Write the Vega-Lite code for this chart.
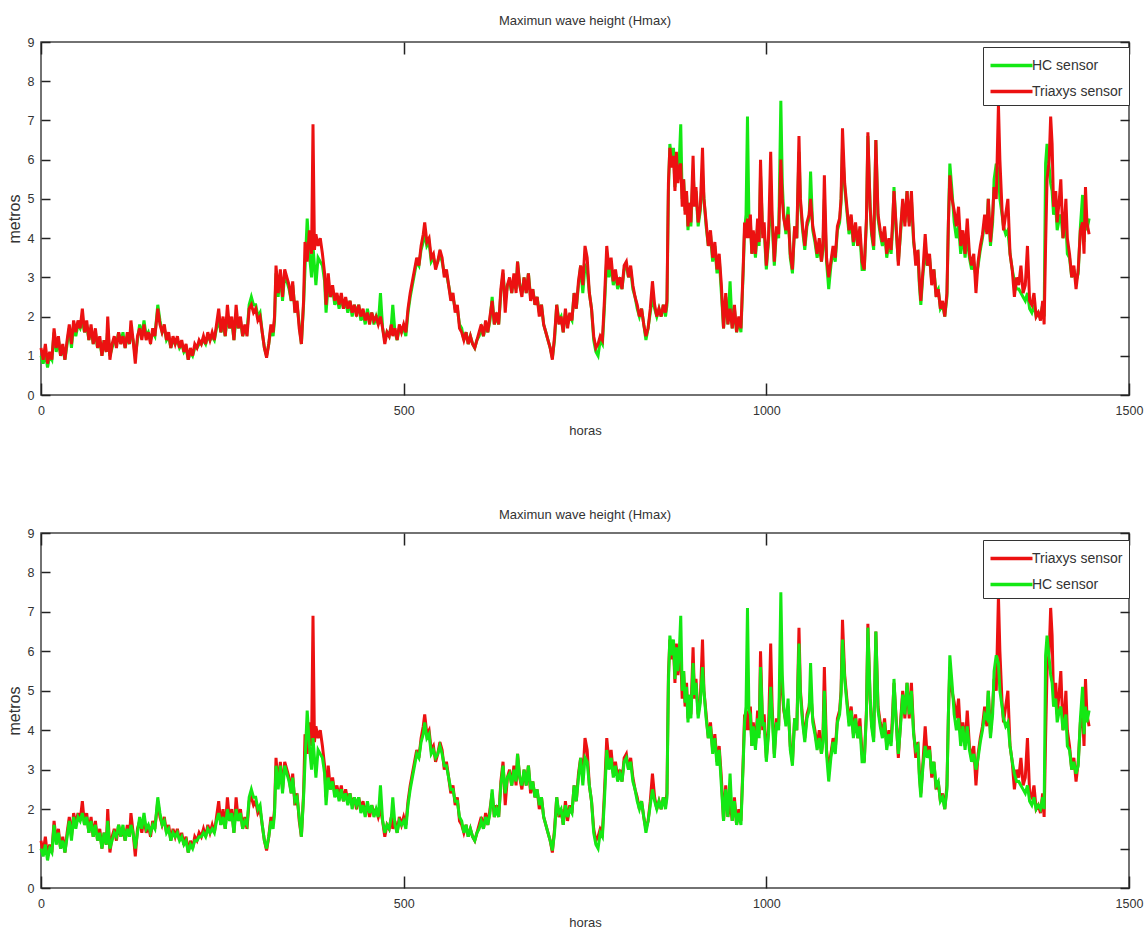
{
  "$schema": "https://vega.github.io/schema/vega-lite/v6.json",
  "background": "white",
  "padding": {"left": 5, "top": 14, "right": 5, "bottom": 2},
  "config": {
    "font": "Liberation Sans, Arial, sans-serif",
    "view": {"stroke": "#444444", "strokeWidth": 1.5},
    "axis": {"grid": false, "domain": false, "labelFont": "Liberation Sans, sans-serif", "titleFont": "Liberation Sans, sans-serif", "labelColor": "#333333", "titleColor": "#333333", "tickColor": "#222222", "tickWidth": 1.5, "labelFontSize": 12.5, "titleFontSize": 13, "titleFontWeight": "normal"},
    "title": {"font": "Liberation Sans, sans-serif", "fontSize": 13, "fontWeight": "normal", "color": "#333333", "anchor": "middle"},
    "legend": {"labelFont": "Liberation Sans, sans-serif", "labelFontSize": 14, "labelColor": "#333333"}
  },
  "datasets": {
    "d": [
{"h":0,"tr":1.2,"hc":1.0},{"h":3,"tr":0.9,"hc":0.8},{"h":6,"tr":1.3,"hc":1.1},{"h":9,"tr":0.8,"hc":0.7},{"h":12,"tr":1.1,"hc":1.0},{"h":15,"tr":0.9,"hc":0.9},{"h":18,"tr":1.7,"hc":1.6},{"h":21,"tr":1.2,"hc":1.1},{"h":24,"tr":1.5,"hc":1.4},{"h":27,"tr":1.0,"hc":1.0},{"h":30,"tr":1.3,"hc":1.2},{"h":33,"tr":0.9,"hc":0.9},{"h":36,"tr":1.4,"hc":1.3},{"h":39,"tr":1.8,"hc":1.7},{"h":42,"tr":1.3,"hc":1.2},{"h":45,"tr":1.9,"hc":1.8},{"h":48,"tr":1.6,"hc":1.5},{"h":51,"tr":1.9,"hc":1.8},{"h":54,"tr":1.7,"hc":1.7},{"h":57,"tr":2.2,"hc":1.9},{"h":60,"tr":1.6,"hc":1.6},{"h":63,"tr":1.9,"hc":1.8},{"h":66,"tr":1.4,"hc":1.4},{"h":69,"tr":1.8,"hc":1.7},{"h":72,"tr":1.3,"hc":1.3},{"h":75,"tr":1.7,"hc":1.6},{"h":78,"tr":1.2,"hc":1.2},{"h":81,"tr":1.5,"hc":1.4},{"h":84,"tr":1.0,"hc":1.0},{"h":87,"tr":1.4,"hc":1.4},{"h":90,"tr":1.1,"hc":1.1},{"h":92,"tr":2.0,"hc":1.7},{"h":95,"tr":0.9,"hc":1.0},{"h":98,"tr":1.3,"hc":1.2},
{"h":101,"tr":1.5,"hc":1.4},{"h":104,"tr":1.2,"hc":1.3},{"h":107,"tr":1.6,"hc":1.6},{"h":110,"tr":1.3,"hc":1.3},{"h":113,"tr":1.5,"hc":1.6},{"h":116,"tr":1.2,"hc":1.2},{"h":119,"tr":1.6,"hc":1.5},{"h":122,"tr":1.3,"hc":1.3},{"h":124,"tr":1.9,"hc":1.6},{"h":127,"tr":1.4,"hc":1.4},{"h":130,"tr":0.8,"hc":1.0},{"h":133,"tr":1.5,"hc":1.4},{"h":136,"tr":1.7,"hc":1.8},{"h":139,"tr":1.4,"hc":1.5},{"h":142,"tr":1.8,"hc":1.9},{"h":145,"tr":1.4,"hc":1.5},{"h":148,"tr":1.6,"hc":1.6},{"h":151,"tr":1.3,"hc":1.4},{"h":154,"tr":1.7,"hc":1.6},{"h":157,"tr":1.5,"hc":1.5},{"h":161,"tr":2.2,"hc":2.3},{"h":164,"tr":1.8,"hc":1.9},{"h":167,"tr":1.6,"hc":1.6},{"h":170,"tr":1.8,"hc":1.7},{"h":173,"tr":1.4,"hc":1.4},{"h":176,"tr":1.6,"hc":1.5},{"h":179,"tr":1.2,"hc":1.2},{"h":182,"tr":1.5,"hc":1.4},{"h":185,"tr":1.3,"hc":1.3},{"h":188,"tr":1.5,"hc":1.4},{"h":191,"tr":1.2,"hc":1.2},{"h":194,"tr":1.4,"hc":1.3},{"h":197,"tr":1.1,"hc":1.1},{"h":200,"tr":1.3,"hc":1.2},
{"h":203,"tr":0.9,"hc":0.9},{"h":206,"tr":1.2,"hc":1.1},{"h":209,"tr":1.0,"hc":1.0},{"h":212,"tr":1.3,"hc":1.2},{"h":215,"tr":1.2,"hc":1.2},{"h":218,"tr":1.4,"hc":1.3},{"h":221,"tr":1.3,"hc":1.3},{"h":224,"tr":1.5,"hc":1.4},{"h":227,"tr":1.3,"hc":1.3},{"h":230,"tr":1.6,"hc":1.5},{"h":233,"tr":1.4,"hc":1.4},{"h":236,"tr":1.6,"hc":1.5},{"h":239,"tr":1.4,"hc":1.4},{"h":242,"tr":1.8,"hc":1.7},{"h":245,"tr":2.2,"hc":1.9},{"h":248,"tr":1.6,"hc":1.6},{"h":251,"tr":2.0,"hc":1.8},{"h":254,"tr":1.5,"hc":1.5},{"h":257,"tr":2.3,"hc":2.0},{"h":260,"tr":1.7,"hc":1.7},{"h":263,"tr":2.0,"hc":1.9},{"h":266,"tr":1.4,"hc":1.4},{"h":269,"tr":2.3,"hc":2.0},{"h":272,"tr":1.7,"hc":1.7},{"h":275,"tr":2.0,"hc":1.9},{"h":278,"tr":1.5,"hc":1.5},{"h":281,"tr":1.8,"hc":1.7},{"h":284,"tr":1.5,"hc":1.6},{"h":287,"tr":2.2,"hc":2.3},{"h":290,"tr":2.3,"hc":2.5},{"h":293,"tr":2.1,"hc":2.3},{"h":296,"tr":2.2,"hc":2.3},{"h":299,"tr":1.9,"hc":2.0},
{"h":302,"tr":2.0,"hc":2.1},{"h":305,"tr":1.6,"hc":1.6},{"h":308,"tr":1.2,"hc":1.2},{"h":311,"tr":0.95,"hc":1.0},{"h":314,"tr":1.3,"hc":1.3},{"h":317,"tr":1.8,"hc":1.7},{"h":320,"tr":1.6,"hc":1.5},{"h":322,"tr":2.0,"hc":1.9},{"h":324,"tr":3.3,"hc":3.1},{"h":327,"tr":2.6,"hc":2.5},{"h":330,"tr":3.2,"hc":3.1},{"h":333,"tr":2.5,"hc":2.4},{"h":336,"tr":3.2,"hc":3.1},{"h":339,"tr":3.0,"hc":2.9},{"h":342,"tr":2.8,"hc":2.7},{"h":345,"tr":2.4,"hc":2.4},{"h":347,"tr":2.9,"hc":2.8},{"h":350,"tr":2.1,"hc":2.2},{"h":353,"tr":2.4,"hc":2.3},{"h":356,"tr":1.7,"hc":1.8},{"h":359,"tr":1.3,"hc":1.3},{"h":362,"tr":2.4,"hc":2.3},{"h":364,"tr":3.9,"hc":3.2},{"h":367,"tr":3.4,"hc":4.5},{"h":370,"tr":4.2,"hc":3.6},{"h":373,"tr":3.6,"hc":3.0},{"h":375,"tr":6.9,"hc":3.8},{"h":377,"tr":3.7,"hc":3.3},{"h":379,"tr":4.1,"hc":2.8},{"h":382,"tr":3.8,"hc":3.5},{"h":385,"tr":4.0,"hc":3.4},{"h":388,"tr":3.6,"hc":3.3},{"h":391,"tr":3.1,"hc":2.9},{"h":393,"tr":2.3,"hc":2.1},{"h":396,"tr":3.1,"hc":2.8},{"h":399,"tr":2.5,"hc":2.5},
{"h":402,"tr":2.8,"hc":2.7},{"h":405,"tr":2.4,"hc":2.3},{"h":408,"tr":2.6,"hc":2.5},{"h":411,"tr":2.3,"hc":2.2},{"h":414,"tr":2.6,"hc":2.5},{"h":417,"tr":2.2,"hc":2.2},{"h":420,"tr":2.5,"hc":2.4},{"h":423,"tr":2.2,"hc":2.1},{"h":426,"tr":2.4,"hc":2.4},{"h":429,"tr":2.1,"hc":2.0},{"h":432,"tr":2.3,"hc":2.3},{"h":435,"tr":2.0,"hc":2.1},{"h":438,"tr":2.3,"hc":2.3},{"h":441,"tr":2.0,"hc":1.9},{"h":444,"tr":2.2,"hc":2.1},{"h":447,"tr":1.9,"hc":1.8},{"h":450,"tr":2.1,"hc":2.2},{"h":453,"tr":1.8,"hc":1.9},{"h":456,"tr":2.1,"hc":2.1},{"h":459,"tr":1.9,"hc":1.8},{"h":462,"tr":2.0,"hc":2.0},{"h":465,"tr":1.8,"hc":1.8},{"h":468,"tr":2.0,"hc":2.6},{"h":471,"tr":1.7,"hc":1.7},{"h":474,"tr":1.3,"hc":1.4},{"h":477,"tr":1.6,"hc":1.6},{"h":480,"tr":1.5,"hc":1.5},{"h":483,"tr":1.8,"hc":1.8},{"h":485,"tr":1.5,"hc":2.3},{"h":488,"tr":1.7,"hc":1.6},{"h":491,"tr":1.4,"hc":1.4},{"h":494,"tr":1.8,"hc":1.7},{"h":497,"tr":1.6,"hc":1.6},{"h":500,"tr":1.8,"hc":1.7},
{"h":503,"tr":1.6,"hc":1.5},{"h":506,"tr":2.2,"hc":2.1},{"h":509,"tr":2.6,"hc":2.5},{"h":512,"tr":2.9,"hc":2.8},{"h":515,"tr":3.2,"hc":3.1},{"h":518,"tr":3.5,"hc":3.4},{"h":521,"tr":3.3,"hc":3.3},{"h":524,"tr":3.8,"hc":3.7},{"h":527,"tr":4.1,"hc":3.9},{"h":529,"tr":4.4,"hc":4.2},{"h":532,"tr":3.9,"hc":3.8},{"h":535,"tr":4.0,"hc":3.9},{"h":538,"tr":3.5,"hc":3.4},{"h":541,"tr":3.6,"hc":3.5},{"h":544,"tr":3.2,"hc":3.3},{"h":547,"tr":3.4,"hc":3.4},{"h":550,"tr":3.7,"hc":3.6},{"h":553,"tr":3.5,"hc":3.4},{"h":556,"tr":3.0,"hc":3.1},{"h":559,"tr":3.2,"hc":3.1},{"h":562,"tr":2.8,"hc":2.8},{"h":565,"tr":2.4,"hc":2.5},{"h":568,"tr":2.6,"hc":2.5},{"h":571,"tr":2.1,"hc":2.2},{"h":574,"tr":2.3,"hc":2.2},{"h":577,"tr":1.7,"hc":1.8},{"h":580,"tr":1.6,"hc":1.7},{"h":583,"tr":1.4,"hc":1.4},{"h":586,"tr":1.6,"hc":1.6},{"h":589,"tr":1.3,"hc":1.3},{"h":592,"tr":1.5,"hc":1.5},{"h":595,"tr":1.3,"hc":1.3},{"h":598,"tr":1.2,"hc":1.2},
{"h":601,"tr":1.4,"hc":1.4},{"h":604,"tr":1.6,"hc":1.5},{"h":607,"tr":1.8,"hc":1.7},{"h":610,"tr":1.5,"hc":1.5},{"h":613,"tr":1.9,"hc":1.8},{"h":616,"tr":1.6,"hc":1.6},{"h":619,"tr":2.0,"hc":1.9},{"h":622,"tr":2.4,"hc":2.5},{"h":625,"tr":1.8,"hc":1.8},{"h":628,"tr":2.1,"hc":2.0},{"h":631,"tr":1.8,"hc":1.8},{"h":634,"tr":2.7,"hc":2.6},{"h":637,"tr":3.2,"hc":3.1},{"h":640,"tr":2.1,"hc":2.4},{"h":643,"tr":2.8,"hc":2.8},{"h":646,"tr":3.0,"hc":2.9},{"h":649,"tr":2.6,"hc":2.6},{"h":652,"tr":3.1,"hc":3.0},{"h":655,"tr":2.6,"hc":2.7},{"h":657,"tr":3.4,"hc":3.4},{"h":660,"tr":2.8,"hc":2.8},{"h":663,"tr":2.5,"hc":2.6},{"h":666,"tr":3.0,"hc":3.0},{"h":669,"tr":2.6,"hc":2.6},{"h":672,"tr":3.1,"hc":3.1},{"h":675,"tr":2.4,"hc":2.5},{"h":678,"tr":2.7,"hc":2.7},{"h":681,"tr":2.3,"hc":2.3},{"h":684,"tr":2.5,"hc":2.5},{"h":687,"tr":2.0,"hc":2.1},{"h":690,"tr":2.3,"hc":2.3},{"h":693,"tr":1.8,"hc":1.8},{"h":696,"tr":1.6,"hc":1.6},{"h":699,"tr":1.4,"hc":1.4},
{"h":702,"tr":1.2,"hc":1.2},{"h":705,"tr":0.9,"hc":0.95},{"h":708,"tr":1.5,"hc":1.4},{"h":711,"tr":2.3,"hc":2.3},{"h":714,"tr":1.8,"hc":1.9},{"h":717,"tr":2.0,"hc":2.0},{"h":720,"tr":1.6,"hc":1.6},{"h":723,"tr":2.2,"hc":2.1},{"h":726,"tr":1.7,"hc":1.8},{"h":729,"tr":2.1,"hc":2.0},{"h":732,"tr":1.9,"hc":1.9},{"h":735,"tr":2.6,"hc":2.6},{"h":738,"tr":2.2,"hc":2.2},{"h":741,"tr":2.9,"hc":2.8},{"h":744,"tr":3.3,"hc":3.3},{"h":747,"tr":2.8,"hc":2.6},{"h":750,"tr":3.8,"hc":3.3},{"h":753,"tr":3.5,"hc":3.2},{"h":756,"tr":2.6,"hc":2.6},{"h":759,"tr":2.2,"hc":2.2},{"h":762,"tr":1.5,"hc":1.4},{"h":765,"tr":1.2,"hc":1.1},{"h":768,"tr":1.3,"hc":1.0},{"h":771,"tr":1.5,"hc":1.4},{"h":774,"tr":1.4,"hc":1.3},{"h":777,"tr":2.5,"hc":2.3},{"h":780,"tr":3.8,"hc":3.5},{"h":783,"tr":3.2,"hc":3.0},{"h":786,"tr":3.5,"hc":3.3},{"h":789,"tr":2.9,"hc":2.8},{"h":792,"tr":3.2,"hc":3.1},{"h":795,"tr":2.8,"hc":2.7},{"h":798,"tr":3.0,"hc":2.9},
{"h":801,"tr":2.7,"hc":2.7},{"h":804,"tr":3.3,"hc":3.2},{"h":807,"tr":3.4,"hc":3.3},{"h":810,"tr":3.0,"hc":3.0},{"h":813,"tr":3.3,"hc":3.2},{"h":816,"tr":2.8,"hc":2.7},{"h":819,"tr":2.5,"hc":2.5},{"h":822,"tr":2.3,"hc":2.2},{"h":825,"tr":2.0,"hc":2.0},{"h":828,"tr":2.2,"hc":2.2},{"h":831,"tr":1.8,"hc":1.8},{"h":834,"tr":1.5,"hc":1.4},{"h":837,"tr":1.7,"hc":1.7},{"h":840,"tr":2.2,"hc":2.1},{"h":843,"tr":2.9,"hc":2.5},{"h":846,"tr":2.3,"hc":2.2},{"h":849,"tr":2.0,"hc":2.0},{"h":852,"tr":2.2,"hc":2.2},{"h":855,"tr":2.0,"hc":2.0},{"h":858,"tr":2.3,"hc":2.3},{"h":861,"tr":2.1,"hc":2.0},{"h":863,"tr":2.4,"hc":2.3},{"h":865,"tr":5.4,"hc":5.2},{"h":867,"tr":6.3,"hc":6.4},{"h":870,"tr":5.8,"hc":5.9},{"h":872,"tr":6.1,"hc":6.3},{"h":874,"tr":5.2,"hc":5.3},{"h":876,"tr":6.2,"hc":6.1},{"h":878,"tr":5.4,"hc":5.5},{"h":880,"tr":5.8,"hc":6.0},{"h":882,"tr":5.9,"hc":6.9},{"h":884,"tr":4.8,"hc":5.0},{"h":886,"tr":5.5,"hc":5.5},{"h":888,"tr":4.6,"hc":4.7},{"h":890,"tr":5.2,"hc":5.1},{"h":892,"tr":4.3,"hc":4.2},{"h":894,"tr":4.9,"hc":4.9},{"h":896,"tr":4.4,"hc":4.3},{"h":899,"tr":6.1,"hc":5.7},
{"h":901,"tr":4.8,"hc":4.9},{"h":903,"tr":5.3,"hc":5.2},{"h":906,"tr":4.4,"hc":4.3},{"h":909,"tr":4.8,"hc":4.7},{"h":912,"tr":6.3,"hc":5.6},{"h":914,"tr":5.0,"hc":5.0},{"h":917,"tr":4.4,"hc":4.3},{"h":920,"tr":3.8,"hc":3.8},{"h":923,"tr":4.2,"hc":4.1},{"h":926,"tr":3.5,"hc":3.4},{"h":929,"tr":3.9,"hc":3.8},{"h":932,"tr":3.2,"hc":3.1},{"h":935,"tr":3.6,"hc":3.5},{"h":938,"tr":2.8,"hc":2.6},{"h":941,"tr":1.7,"hc":1.7},{"h":944,"tr":2.6,"hc":2.5},{"h":947,"tr":1.8,"hc":1.8},{"h":950,"tr":2.2,"hc":2.9},{"h":953,"tr":1.7,"hc":1.7},{"h":956,"tr":2.3,"hc":2.2},{"h":959,"tr":1.6,"hc":1.6},{"h":962,"tr":2.0,"hc":1.9},{"h":965,"tr":1.7,"hc":1.6},{"h":968,"tr":3.2,"hc":3.1},{"h":970,"tr":4.4,"hc":4.2},{"h":972,"tr":4.0,"hc":4.6},{"h":974,"tr":4.5,"hc":7.1},{"h":976,"tr":4.0,"hc":4.5},{"h":978,"tr":4.6,"hc":4.4},{"h":980,"tr":3.6,"hc":3.6},{"h":982,"tr":4.2,"hc":4.1},{"h":985,"tr":3.6,"hc":3.5},{"h":988,"tr":4.5,"hc":4.3},{"h":990,"tr":3.9,"hc":3.8},{"h":992,"tr":6.0,"hc":5.6},{"h":995,"tr":4.0,"hc":4.1},{"h":997,"tr":4.4,"hc":4.2},
{"h":1000,"tr":3.3,"hc":3.2},{"h":1003,"tr":4.0,"hc":3.9},{"h":1006,"tr":6.2,"hc":5.1},{"h":1008,"tr":4.6,"hc":4.4},{"h":1011,"tr":3.4,"hc":3.3},{"h":1014,"tr":4.3,"hc":4.2},{"h":1017,"tr":4.1,"hc":4.0},{"h":1020,"tr":6.0,"hc":7.5},{"h":1022,"tr":5.0,"hc":5.4},{"h":1024,"tr":4.5,"hc":4.6},{"h":1027,"tr":4.2,"hc":4.1},{"h":1030,"tr":4.6,"hc":4.8},{"h":1033,"tr":3.6,"hc":3.5},{"h":1036,"tr":3.2,"hc":3.1},{"h":1039,"tr":4.3,"hc":4.3},{"h":1042,"tr":4.0,"hc":4.0},{"h":1045,"tr":6.6,"hc":6.2},{"h":1047,"tr":5.0,"hc":4.9},{"h":1050,"tr":4.3,"hc":4.2},{"h":1053,"tr":3.8,"hc":3.7},{"h":1056,"tr":4.4,"hc":4.3},{"h":1059,"tr":4.6,"hc":4.5},{"h":1061,"tr":5.0,"hc":5.7},{"h":1064,"tr":4.3,"hc":4.2},{"h":1067,"tr":4.0,"hc":3.9},{"h":1070,"tr":3.6,"hc":3.5},{"h":1073,"tr":4.0,"hc":3.8},{"h":1076,"tr":3.4,"hc":3.4},{"h":1078,"tr":3.8,"hc":3.7},{"h":1080,"tr":5.6,"hc":5.0},{"h":1083,"tr":3.5,"hc":3.4},{"h":1086,"tr":3.0,"hc":2.7},{"h":1089,"tr":3.4,"hc":3.3},{"h":1092,"tr":3.8,"hc":3.7},{"h":1095,"tr":3.5,"hc":3.4},{"h":1098,"tr":4.3,"hc":4.2},
{"h":1101,"tr":4.5,"hc":4.4},{"h":1103,"tr":5.0,"hc":4.9},{"h":1105,"tr":6.8,"hc":6.3},{"h":1108,"tr":5.4,"hc":5.3},{"h":1111,"tr":4.8,"hc":4.7},{"h":1114,"tr":4.2,"hc":4.1},{"h":1117,"tr":4.6,"hc":4.5},{"h":1120,"tr":3.9,"hc":3.8},{"h":1123,"tr":4.4,"hc":4.3},{"h":1126,"tr":3.8,"hc":3.8},{"h":1129,"tr":4.3,"hc":4.1},{"h":1132,"tr":3.4,"hc":3.2},{"h":1135,"tr":3.2,"hc":3.2},{"h":1138,"tr":4.5,"hc":4.4},{"h":1140,"tr":6.7,"hc":6.6},{"h":1143,"tr":4.8,"hc":4.9},{"h":1145,"tr":4.2,"hc":4.1},{"h":1148,"tr":3.8,"hc":3.7},{"h":1151,"tr":6.5,"hc":6.5},{"h":1154,"tr":4.6,"hc":4.5},{"h":1157,"tr":4.2,"hc":4.1},{"h":1160,"tr":3.9,"hc":3.8},{"h":1163,"tr":4.3,"hc":4.2},{"h":1166,"tr":3.6,"hc":3.5},{"h":1169,"tr":4.0,"hc":3.9},{"h":1172,"tr":3.7,"hc":3.6},{"h":1174,"tr":4.4,"hc":4.2},{"h":1176,"tr":5.2,"hc":5.3},{"h":1179,"tr":4.3,"hc":4.2},{"h":1182,"tr":3.3,"hc":3.4},{"h":1185,"tr":4.2,"hc":4.1},{"h":1188,"tr":5.0,"hc":4.9},{"h":1191,"tr":4.3,"hc":4.4},{"h":1194,"tr":5.2,"hc":5.2},{"h":1197,"tr":4.3,"hc":4.4},{"h":1200,"tr":5.2,"hc":5.0},
{"h":1203,"tr":4.0,"hc":3.9},{"h":1206,"tr":3.3,"hc":3.5},{"h":1209,"tr":3.7,"hc":3.6},{"h":1211,"tr":2.9,"hc":2.8},{"h":1213,"tr":2.4,"hc":2.3},{"h":1216,"tr":3.2,"hc":3.1},{"h":1219,"tr":4.1,"hc":3.6},{"h":1222,"tr":3.3,"hc":3.3},{"h":1225,"tr":3.6,"hc":3.5},{"h":1228,"tr":2.8,"hc":2.9},{"h":1231,"tr":3.2,"hc":3.2},{"h":1234,"tr":2.5,"hc":2.6},{"h":1237,"tr":2.7,"hc":2.7},{"h":1240,"tr":2.2,"hc":2.2},{"h":1243,"tr":2.4,"hc":2.3},{"h":1246,"tr":2.0,"hc":2.0},{"h":1249,"tr":2.6,"hc":2.5},{"h":1251,"tr":4.4,"hc":4.4},{"h":1253,"tr":5.6,"hc":5.9},{"h":1256,"tr":5.0,"hc":5.2},{"h":1259,"tr":4.7,"hc":4.4},{"h":1262,"tr":4.3,"hc":4.0},{"h":1265,"tr":4.8,"hc":4.3},{"h":1268,"tr":3.8,"hc":3.6},{"h":1271,"tr":4.2,"hc":4.1},{"h":1274,"tr":3.6,"hc":3.5},{"h":1277,"tr":4.5,"hc":4.1},{"h":1280,"tr":3.6,"hc":3.5},{"h":1283,"tr":3.3,"hc":3.2},{"h":1286,"tr":3.6,"hc":3.4},{"h":1289,"tr":2.6,"hc":3.0},{"h":1292,"tr":3.4,"hc":3.3},{"h":1295,"tr":3.8,"hc":3.7},{"h":1298,"tr":4.1,"hc":4.0},
{"h":1301,"tr":4.6,"hc":4.4},{"h":1304,"tr":4.1,"hc":4.3},{"h":1306,"tr":5.0,"hc":5.0},{"h":1309,"tr":3.9,"hc":3.8},{"h":1312,"tr":4.6,"hc":4.4},{"h":1314,"tr":5.3,"hc":5.5},{"h":1317,"tr":5.0,"hc":5.9},{"h":1320,"tr":7.4,"hc":5.7},{"h":1322,"tr":6.0,"hc":5.0},{"h":1325,"tr":4.7,"hc":4.6},{"h":1327,"tr":4.2,"hc":4.3},{"h":1330,"tr":4.6,"hc":4.1},{"h":1333,"tr":5.0,"hc":4.2},{"h":1336,"tr":3.6,"hc":3.6},{"h":1339,"tr":3.2,"hc":3.2},{"h":1342,"tr":2.5,"hc":2.9},{"h":1345,"tr":3.0,"hc":2.7},{"h":1348,"tr":2.8,"hc":2.7},{"h":1351,"tr":3.3,"hc":2.6},{"h":1354,"tr":2.6,"hc":2.5},{"h":1357,"tr":2.8,"hc":2.4},{"h":1360,"tr":3.8,"hc":2.6},{"h":1363,"tr":2.4,"hc":2.2},{"h":1366,"tr":2.3,"hc":2.1},{"h":1369,"tr":2.6,"hc":2.3},{"h":1372,"tr":2.0,"hc":2.0},{"h":1375,"tr":2.1,"hc":2.1},{"h":1378,"tr":1.9,"hc":2.0},{"h":1381,"tr":2.4,"hc":2.3},{"h":1383,"tr":1.8,"hc":2.0},{"h":1385,"tr":3.8,"hc":5.9},{"h":1387,"tr":5.5,"hc":6.4},{"h":1390,"tr":6.0,"hc":5.8},{"h":1392,"tr":7.1,"hc":5.4},{"h":1394,"tr":6.4,"hc":5.2},{"h":1396,"tr":4.8,"hc":4.6},{"h":1399,"tr":5.2,"hc":4.8},
{"h":1401,"tr":4.4,"hc":4.2},{"h":1404,"tr":5.0,"hc":4.5},{"h":1406,"tr":5.5,"hc":4.6},{"h":1409,"tr":4.0,"hc":4.0},{"h":1411,"tr":4.4,"hc":4.2},{"h":1413,"tr":5.0,"hc":4.4},{"h":1415,"tr":4.0,"hc":3.6},{"h":1418,"tr":3.6,"hc":3.5},{"h":1421,"tr":3.0,"hc":3.0},{"h":1424,"tr":3.3,"hc":3.2},{"h":1427,"tr":2.7,"hc":2.9},{"h":1430,"tr":3.2,"hc":3.1},{"h":1433,"tr":4.2,"hc":4.3},{"h":1436,"tr":4.4,"hc":5.1},{"h":1438,"tr":3.6,"hc":3.9},{"h":1440,"tr":5.3,"hc":4.6},{"h":1442,"tr":4.4,"hc":4.2},{"h":1445,"tr":4.1,"hc":4.5}
    ]
  },
  "spacing": 69,
  "resolve": {"scale": {"color": "independent"}, "legend": {"color": "independent"}},
  "vconcat": [
    {
      "title": {"text": "Maximun wave height (Hmax)", "offset": 8},
      "width": 1088,
      "height": 353,
      "data": {"name": "d"},
      "resolve": {"axis": {"x": "independent", "y": "independent"}},
      "layer": [
        {
          "mark": {"type": "line", "strokeWidth": 3},
          "encoding": {
            "x": {"field": "h", "type": "quantitative", "scale": {"domain": [0, 1500], "nice": false}, "axis": {"orient": "bottom", "values": [0, 500, 1000, 1500], "format": "d", "tickSize": -12, "labelPadding": 21, "title": "horas", "titlePadding": 8, "labelFlush": false}},
            "y": {"field": "hc", "type": "quantitative", "scale": {"domain": [0, 9], "nice": false}, "axis": {"orient": "left", "values": [0, 1, 2, 3, 4, 5, 6, 7, 8, 9], "tickSize": -9, "labelPadding": 16, "title": "metros", "titlePadding": 5, "titleFontSize": 16}},
            "color": {"datum": "HC sensor", "type": "nominal", "scale": {"domain": ["HC sensor", "Triaxys sensor"], "range": ["#14e814", "#ec1111"]}, "legend": {"title": null, "orient": "none", "legendX": 942, "legendY": 5, "symbolType": "M-2,0H2", "symbolSize": 441, "symbolStrokeWidth": 3.5, "symbolOffset": 10, "labelOffset": 8, "strokeColor": "#333333", "fillColor": "white", "padding": 6, "rowPadding": 6}}
          }
        },
        {
          "mark": {"type": "line", "strokeWidth": 3},
          "encoding": {
            "x": {"field": "h", "type": "quantitative", "axis": {"orient": "top", "values": [0, 500, 1000, 1500], "tickSize": -12, "labels": false, "title": null}},
            "y": {"field": "tr", "type": "quantitative", "axis": {"orient": "right", "values": [0, 1, 2, 3, 4, 5, 6, 7, 8, 9], "tickSize": -9, "labels": false, "title": null}},
            "color": {"datum": "Triaxys sensor", "type": "nominal"}
          }
        }
      ]
    },
    {
      "title": {"text": "Maximun wave height (Hmax)", "offset": 5},
      "width": 1088,
      "height": 355,
      "data": {"name": "d"},
      "resolve": {"axis": {"x": "independent", "y": "independent"}},
      "layer": [
        {
          "mark": {"type": "line", "strokeWidth": 3},
          "encoding": {
            "x": {"field": "h", "type": "quantitative", "scale": {"domain": [0, 1500], "nice": false}, "axis": {"orient": "bottom", "values": [0, 500, 1000, 1500], "format": "d", "tickSize": -12, "labelPadding": 21, "title": "horas", "titlePadding": 7, "labelFlush": false}},
            "y": {"field": "tr", "type": "quantitative", "scale": {"domain": [0, 9], "nice": false}, "axis": {"orient": "left", "values": [0, 1, 2, 3, 4, 5, 6, 7, 8, 9], "tickSize": -9, "labelPadding": 16, "title": "metros", "titlePadding": 5, "titleFontSize": 16}},
            "color": {"datum": "Triaxys sensor", "type": "nominal", "scale": {"domain": ["Triaxys sensor", "HC sensor"], "range": ["#ec1111", "#14e814"]}, "legend": {"title": null, "orient": "none", "legendX": 942, "legendY": 7, "symbolType": "M-2,0H2", "symbolSize": 441, "symbolStrokeWidth": 3.5, "symbolOffset": 10, "labelOffset": 8, "strokeColor": "#333333", "fillColor": "white", "padding": 6, "rowPadding": 6}}
          }
        },
        {
          "mark": {"type": "line", "strokeWidth": 3},
          "encoding": {
            "x": {"field": "h", "type": "quantitative", "axis": {"orient": "top", "values": [0, 500, 1000, 1500], "tickSize": -12, "labels": false, "title": null}},
            "y": {"field": "hc", "type": "quantitative", "axis": {"orient": "right", "values": [0, 1, 2, 3, 4, 5, 6, 7, 8, 9], "tickSize": -9, "labels": false, "title": null}},
            "color": {"datum": "HC sensor", "type": "nominal"}
          }
        }
      ]
    }
  ]
}
